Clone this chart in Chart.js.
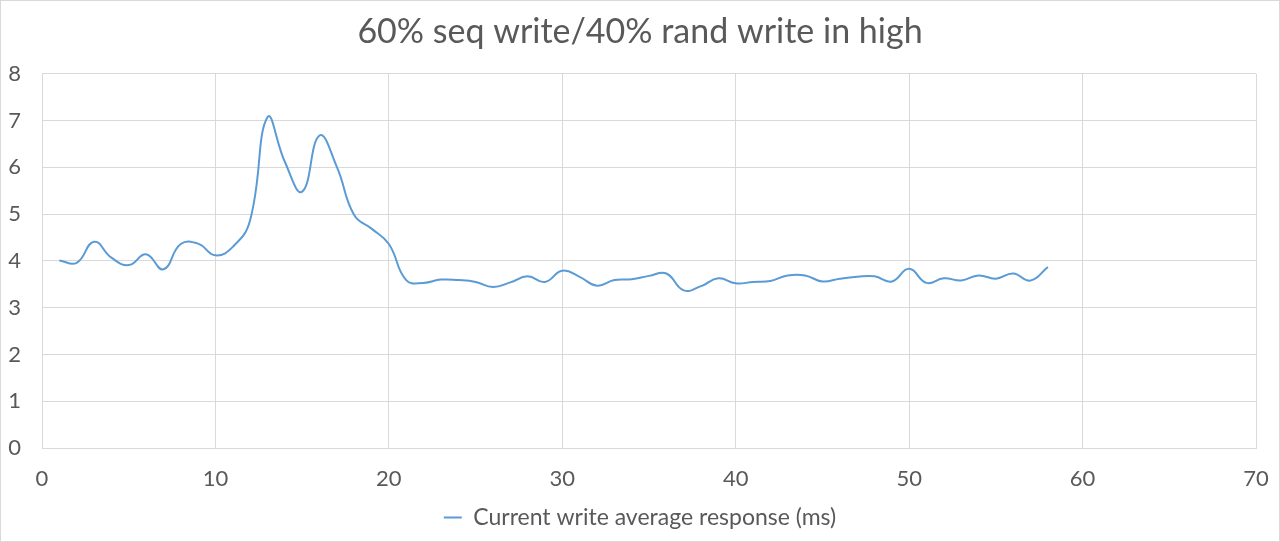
<!DOCTYPE html>
<html>
<head>
<meta charset="utf-8">
<script src="https://cdn.jsdelivr.net/npm/chart.js@4/dist/chart.umd.min.js"></script>
<style>
  html, body { margin: 0; padding: 0; background: #fff; }
  #wrap { width: 1280px; height: 542px; position: relative; }
</style>
</head>
<body>
<div id="wrap"><canvas id="respChart" width="1280" height="542"></canvas></div>
<script>
// Dados
const chartTitle = '60% seq write/40% rand write in high';
const seriesLabel = 'Current write average response (ms)';
const xValues = [1, 2, 3, 4, 5, 6, 7, 8, 9, 10, 11, 12, 13, 14, 15, 16, 17, 18, 19, 20,
  21, 22, 23, 24, 25, 26, 27, 28, 29, 30, 31, 32, 33, 34, 35, 36, 37, 38, 39, 40,
  41, 42, 43, 44, 45, 46, 47, 48, 49, 50, 51, 52, 53, 54, 55, 56, 57, 58];
const responseMs = [4.01, 3.96, 4.41, 4.07, 3.91, 4.14, 3.82, 4.36, 4.37, 4.12,
  4.30, 4.87, 7.07, 6.12, 5.48, 6.68, 6.01, 4.98, 4.69, 4.36,
  3.59, 3.53, 3.60, 3.59, 3.55, 3.44, 3.54, 3.67, 3.55, 3.79,
  3.66, 3.47, 3.59, 3.61, 3.68, 3.73, 3.37, 3.46, 3.63, 3.52,
  3.55, 3.57, 3.69, 3.69, 3.56, 3.62, 3.66, 3.67, 3.56, 3.83,
  3.53, 3.63, 3.58, 3.69, 3.62, 3.73, 3.58, 3.87];
const xTicks = [0, 10, 20, 30, 40, 50, 60, 70];
const yTicks = [0, 1, 2, 3, 4, 5, 6, 7, 8];

const lineColor = '#5B9BD5';
const textColor = '#595959';
const gridColor = '#D9D9D9';
const fontFamily = 'Lato, "Open Sans", sans-serif';

// Moldura fina em volta do gráfico
const borderPlugin = {
  id: 'outerBorder',
  beforeDraw(chart) {
    const ctx = chart.ctx;
    ctx.save();
    ctx.fillStyle = '#ffffff';
    ctx.fillRect(0, 0, chart.width, chart.height);
    ctx.strokeStyle = gridColor;
    ctx.lineWidth = 1;
    ctx.strokeRect(0.5, 0.5, chart.width - 1, chart.height - 1);
    ctx.restore();
  }
};

const points = xValues.map((x, i) => ({ x: x, y: responseMs[i] }));

new Chart(document.getElementById('respChart').getContext('2d'), {
  type: 'line',
  data: {
    datasets: [{
      label: seriesLabel,
      data: points,
      borderColor: lineColor,
      backgroundColor: lineColor,
      borderWidth: 2,
      pointRadius: 0,
      tension: 0.45,
      fill: false
    }]
  },
  options: {
    responsive: false,
    animation: false,
    layout: { padding: { left: 0, right: 0, top: 0, bottom: 3 } },
    plugins: {
      title: {
        display: true,
        text: chartTitle,
        color: textColor,
        font: { family: fontFamily, size: 34, weight: 'normal' },
        padding: { top: 12, bottom: 21 }
      },
      legend: {
        display: true,
        position: 'bottom',
        labels: {
          color: textColor,
          font: { family: fontFamily, size: 23 },
          boxWidth: 18,
          boxHeight: 2,
          padding: 8,
          generateLabels(chart) {
            const items = Chart.defaults.plugins.legend.labels.generateLabels(chart);
            items.forEach(it => { it.lineWidth = 0; it.fillStyle = lineColor; });
            return items;
          }
        }
      },
      tooltip: { enabled: false }
    },
    scales: {
      x: {
        type: 'linear',
        min: 0,
        max: 70,
        afterBuildTicks(scale) { scale.ticks = xTicks.map(v => ({ value: v })); },
        afterFit(scale) {
          scale.height = 50;
          scale.paddingLeft = 0;
          scale.paddingRight = 24;
        },
        grid: { color: gridColor, drawTicks: false },
        border: { color: gridColor },
        ticks: {
          color: textColor,
          font: { family: fontFamily, size: 22 },
          padding: 18,
          maxRotation: 0
        }
      },
      y: {
        min: 0,
        max: 8,
        afterBuildTicks(scale) { scale.ticks = yTicks.map(v => ({ value: v })); },
        afterFit(scale) { scale.width = 42; },
        grid: { color: gridColor, drawTicks: false },
        border: { color: gridColor },
        ticks: {
          color: textColor,
          font: { family: fontFamily, size: 22 },
          padding: 21
        }
      }
    }
  },
  plugins: [borderPlugin]
});
</script>
</body>
</html>
